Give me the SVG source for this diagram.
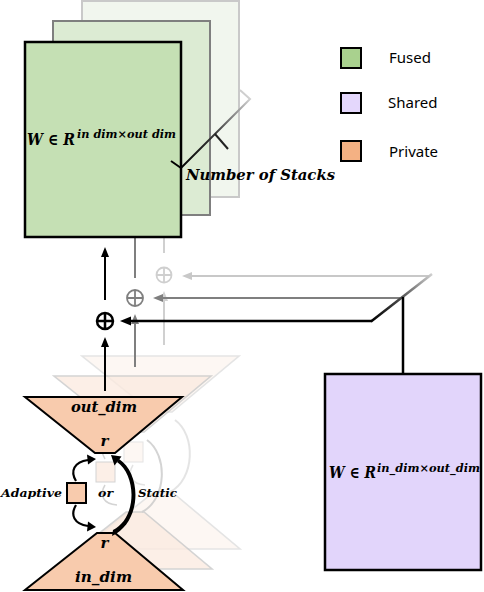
<svg xmlns="http://www.w3.org/2000/svg" width="484" height="592" viewBox="0 0 484 592">
<style>
.math{font-family:"DejaVu Serif","Liberation Serif",serif;font-weight:bold;font-style:italic;fill:#000}
.leg{font-family:"Noto Sans","Open Sans","Liberation Sans",sans-serif;font-size:15px;fill:#000}
.trap{fill:#f8cbad;stroke:#000;stroke-width:2;stroke-linejoin:miter}
.ln{fill:none;stroke-linecap:butt}
</style>
<defs>
<linearGradient id="gStack" gradientUnits="userSpaceOnUse" x1="181" y1="168" x2="250" y2="99">
<stop offset="0" stop-color="#000"/><stop offset="0.5" stop-color="#3a3a3a"/><stop offset="1" stop-color="#d0d0d0"/>
</linearGradient>
<linearGradient id="gDiag" gradientUnits="userSpaceOnUse" x1="371" y1="321" x2="432" y2="274">
<stop offset="0" stop-color="#000"/><stop offset="0.45" stop-color="#444"/><stop offset="1" stop-color="#d0d0d0"/>
</linearGradient>
<g id="ghost">
<polygon points="25,397 182,397 115,453 95,453" stroke="currentColor" stroke-width="1.6"/>
<polygon points="97,533 115,533 183,590 25,590" stroke="currentColor" stroke-width="1.6"/>
<rect x="67" y="483" width="19" height="20" stroke="currentColor" stroke-width="1"/>
<path d="M76,480 C70,470 74,461 88,460" fill="none" stroke="currentColor" stroke-width="1.5"/>
<path d="M76,506 C70,516 74,525 88,526" fill="none" stroke="currentColor" stroke-width="1.5"/>
<path d="M113,533 C138,520 139,476 118,461" fill="none" stroke="currentColor" stroke-width="2"/>
</g>
</defs>

<!-- stacks of fused weight -->
<g id="fused-back">
<rect x="82" y="1" width="157" height="196" fill="#f1f6ee" stroke="#c9c9c9" stroke-width="2"/>
</g>
<g id="fused-mid">
<rect x="53" y="21" width="157" height="194" fill="#dcebd3" stroke="#7f7f7f" stroke-width="2"/>
</g>

<!-- ghost hourglasses -->
<g id="private-back" opacity="0.55">
<use href="#ghost" transform="translate(57,-41)" fill="#fdf2ea" color="#cfcfcf"/>
</g>
<g id="private-mid" opacity="0.75">
<use href="#ghost" transform="translate(29,-21)" fill="#fbeadf" color="#c6c6c6"/>
</g>

<g id="connectors">
<line x1="135" y1="215" x2="135" y2="278" stroke="#7f7f7f" stroke-width="2"/>
<line x1="164" y1="197" x2="164" y2="253" stroke="#d0d0d0" stroke-width="2"/>
<line x1="105" y1="300" x2="105" y2="255" stroke="#000" stroke-width="2"/>
<polygon points="105,247 101,257 109,257" fill="#000"/>
<line x1="105" y1="391" x2="105" y2="345" stroke="#000" stroke-width="2"/>
<polygon points="105,337 101,347 109,347" fill="#000"/>
<line x1="135" y1="367" x2="135" y2="322" stroke="#7f7f7f" stroke-width="2"/>
<polygon points="135,314 131,324 139,324" fill="#7f7f7f"/>
<line x1="164" y1="345" x2="164" y2="299" stroke="#d0d0d0" stroke-width="2"/>
<polygon points="164,291 160,301 168,301" fill="#d0d0d0"/>
<line x1="430" y1="276" x2="190" y2="276" stroke="#c8c8c8" stroke-width="2"/>
<polygon points="182,276 192,272 192,280" fill="#c8c8c8"/>
<line x1="403" y1="298" x2="161" y2="298" stroke="#7f7f7f" stroke-width="2.2"/>
<polygon points="153,298 163,294 163,302" fill="#7f7f7f"/>
<line x1="372" y1="321" x2="129" y2="321" stroke="#000" stroke-width="2.5"/>
<polygon points="120,321 131,316.5 131,325.5" fill="#000"/>
<line x1="371" y1="321.5" x2="432" y2="274" stroke="url(#gDiag)" stroke-width="2.5"/>
<line x1="403" y1="297" x2="403" y2="374" stroke="#000" stroke-width="2.5"/>
</g>

<!-- circle-plus symbols -->
<g id="sum-back" fill="none" stroke="#cfcfcf" stroke-width="1.8">
<circle cx="164" cy="275" r="7.5"/><path d="M156.5,275H171.5M164,267.5V282.5"/>
</g>
<g id="sum-mid" fill="none" stroke="#7f7f7f" stroke-width="1.8">
<circle cx="135" cy="298" r="8"/><path d="M127,298H143M135,290V306"/>
</g>
<g id="sum-front" fill="none" stroke="#000" stroke-width="2.5">
<circle cx="105" cy="321" r="8"/><path d="M97,321H113M105,313V329"/>
</g>

<!-- front fused box -->
<g id="fused-front">
<rect x="25" y="42" width="156" height="195" fill="#c5e0b4" stroke="#000" stroke-width="2.5"/>
<text class="math" x="27" y="145" font-size="16.5" textLength="48" lengthAdjust="spacingAndGlyphs">W ∈ R</text>
<text class="math" x="77" y="137.5" font-size="11.5" textLength="99" lengthAdjust="spacingAndGlyphs">in dim×out dim</text>
</g>

<!-- number of stacks dimension -->
<g id="stacks-label">
<polyline points="171,161 181,168 250,99 240,90" fill="none" stroke="url(#gStack)" stroke-width="2"/>
<line x1="215" y1="134" x2="228" y2="149" stroke="#222" stroke-width="2"/>
<text class="math" x="186" y="180" font-size="15.5" textLength="149" lengthAdjust="spacingAndGlyphs">Number of Stacks</text>
</g>

<!-- front hourglass (private) -->
<g id="private-front">
<polygon class="trap" points="25,397 182,397 115,453 95,453"/>
<polygon class="trap" points="97,533 115,533 183,590 25,590"/>
<text class="math" x="71" y="412" font-size="15" textLength="66" lengthAdjust="spacingAndGlyphs">out_dim</text>
<text class="math" x="104.5" y="446" font-size="15" text-anchor="middle">r</text>
<text class="math" x="104.5" y="548" font-size="15" text-anchor="middle">r</text>
<text class="math" x="75" y="582" font-size="15" textLength="57" lengthAdjust="spacingAndGlyphs">in_dim</text>
<rect x="67" y="483" width="19" height="20" fill="#f8cbad" stroke="#000" stroke-width="2"/>
<text class="math" x="1" y="497" font-size="11.5" textLength="61" lengthAdjust="spacingAndGlyphs">Adaptive</text>
<text class="math" x="98" y="497" font-size="11.5" textLength="15" lengthAdjust="spacingAndGlyphs">or</text>
<text class="math" x="138" y="497" font-size="11.5" textLength="39" lengthAdjust="spacingAndGlyphs">Static</text>
<path d="M76,481 C70,471 74,462 88,460" fill="none" stroke="#000" stroke-width="2.2"/>
<polygon points="96,459 87,454.5 88,464.5" fill="#000"/>
<path d="M76,505 C70,515 74,524 88,526" fill="none" stroke="#000" stroke-width="2.2"/>
<polygon points="96,527 88,521.5 87,531.5" fill="#000"/>
<path d="M112,536 C142,522 142,474 119,459 L117,462 C137,476 137,518 113,530 Z" fill="#000"/>
<polygon points="111,455 121.5,456.5 114.5,465.5" fill="#000"/>
</g>

<!-- shared box -->
<g id="shared">
<rect x="325" y="374" width="156" height="196" fill="#e2d5fb" stroke="#000" stroke-width="2.5"/>
<text class="math" x="329" y="478" font-size="16" textLength="47" lengthAdjust="spacingAndGlyphs">W ∈ R</text>
<text class="math" x="377" y="471.5" font-size="11.5" textLength="103" lengthAdjust="spacingAndGlyphs">in_dim×out_dim</text>
</g>

<!-- legend -->
<g id="legend-fused">
<rect x="341" y="48" width="20" height="20" fill="#a9d18e" stroke="#000" stroke-width="2"/>
<text class="leg" x="389" y="63">Fused</text>
</g>
<g id="legend-shared">
<rect x="341" y="93" width="20" height="20" fill="#e4d7fc" stroke="#000" stroke-width="2"/>
<text class="leg" x="388" y="108">Shared</text>
</g>
<g id="legend-private">
<rect x="341" y="141" width="20" height="20" fill="#f4b183" stroke="#000" stroke-width="2"/>
<text class="leg" x="389" y="157">Private</text>
</g>
</svg>
